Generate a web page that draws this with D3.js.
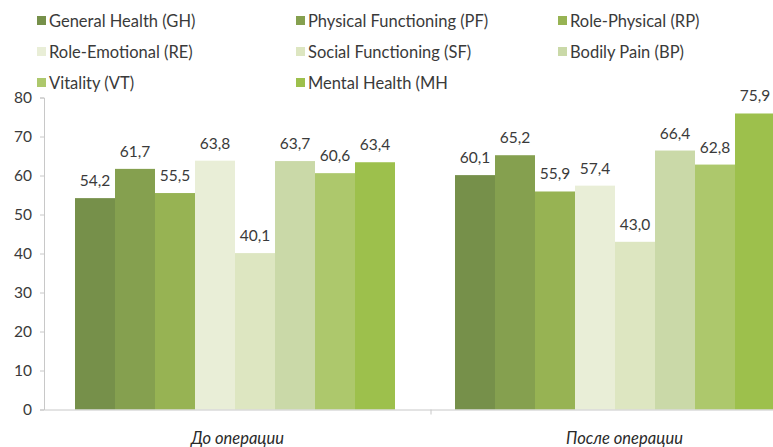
<!DOCTYPE html>
<html><head><meta charset="utf-8">
<script src="https://cdn.jsdelivr.net/npm/d3@7/dist/d3.min.js"></script>
<style>body{margin:0;background:#fff;overflow:hidden}svg{display:block}</style>
</head><body>
<svg id="c" width="773" height="447"></svg>
<script>
const categories = ["До операции", "После операции"];
const seriesNames = ["General Health (GH)", "Physical Functioning (PF)", "Role-Physical (RP)",
  "Role-Emotional (RE)", "Social Functioning (SF)", "Bodily Pain (BP)",
  "Vitality (VT)", "Mental Health (MH"];
const valuesBefore = [54.2, 61.7, 55.5, 63.8, 40.1, 63.7, 60.6, 63.4];
const valuesAfter = [60.1, 65.2, 55.9, 57.4, 43.0, 66.4, 62.8, 75.9];
const yTicks = [0, 10, 20, 30, 40, 50, 60, 70, 80];
const colors = ["#76904a", "#85a04f", "#97b353", "#e9eed7", "#dde6c1", "#cad9a8", "#adc86c", "#9dc04c"];

const values = [valuesBefore, valuesAfter];
const svg = d3.select("#c");
const font = "Lato, 'Open Sans', sans-serif";
const left = 44, right = 818, y0 = 409.5, yTop = 97.5;

const y = d3.scaleLinear().domain([0, 80]).range([y0, yTop]);
const x0 = d3.scaleBand().domain(categories).range([left, right]).padding(0);
const xb = d3.scaleBand().domain(categories).range([45, 805])
  .paddingInner(60 / 380).paddingOuter(30 / 380);
const x1 = d3.scaleBand().domain(seriesNames).range([0, xb.bandwidth()]).padding(0);
const color = d3.scaleOrdinal().domain(seriesNames).range(colors);

// y axis
const yAxis = svg.append("g").attr("transform", `translate(${left},0)`)
  .call(d3.axisLeft(y).tickValues(yTicks).tickSize(4).tickPadding(8).tickFormat(d3.format("d")));
yAxis.select(".domain").attr("stroke", "#c8c8c8");
yAxis.selectAll(".tick line").attr("stroke", "#c8c8c8");
yAxis.selectAll(".tick text").attr("font-family", font).attr("font-size", 15.5).attr("fill", "#3a3a3a");

// bars
const groups = svg.append("g").selectAll("g").data(categories).join("g")
  .attr("transform", d => `translate(${xb(d)},0)`);
groups.each(function(cat, ci) {
  const g = d3.select(this);
  const data = seriesNames.map((s, i) => ({s, v: values[ci][i]}));
  g.selectAll("rect").data(data).join("rect")
    .attr("x", d => x1(d.s)).attr("width", x1.bandwidth())
    .attr("y", d => y(d.v)).attr("height", d => y(0) - y(d.v))
    .attr("fill", d => color(d.s));
  g.selectAll("text").data(data).join("text")
    .attr("x", d => x1(d.s) + x1.bandwidth() / 2)
    .attr("y", d => y(d.v) - 12)
    .attr("text-anchor", "middle")
    .attr("font-family", font).attr("font-size", 15.5).attr("fill", "#3a3a3a")
    .text(d => d.v.toFixed(1).replace(".", ","));
});

// x axis
const xAxis = svg.append("g").attr("transform", `translate(0,${y0})`)
  .call(d3.axisBottom(x0).tickSize(0).tickPadding(23));
xAxis.select(".domain").attr("stroke", "#c8c8c8");
xAxis.selectAll(".tick text").attr("font-family", font).attr("font-size", 16.5)
  .attr("font-style", "italic").attr("fill", "#2a2a2a");
xAxis.selectAll(".sep").data([x0(categories[1])]).join("line").attr("class", "sep")
  .attr("x1", d => d).attr("x2", d => d).attr("y1", 0).attr("y2", 5).attr("stroke", "#c8c8c8");

// legend
const legCols = [37, 296, 558], legRows = [21, 52, 83];
const leg = svg.append("g").selectAll("g").data(seriesNames).join("g")
  .attr("transform", (d, i) => `translate(${legCols[i % 3]},${legRows[Math.floor(i / 3)]})`);
leg.append("rect").attr("x", 0).attr("y", -5).attr("width", 9).attr("height", 9).attr("fill", d => color(d));
leg.append("text").attr("x", 12).attr("y", 0).attr("dy", "0.35em")
  .attr("font-family", font).attr("font-size", 16.5).attr("fill", "#3a3a3a").text(d => d);
</script>
</body></html>
